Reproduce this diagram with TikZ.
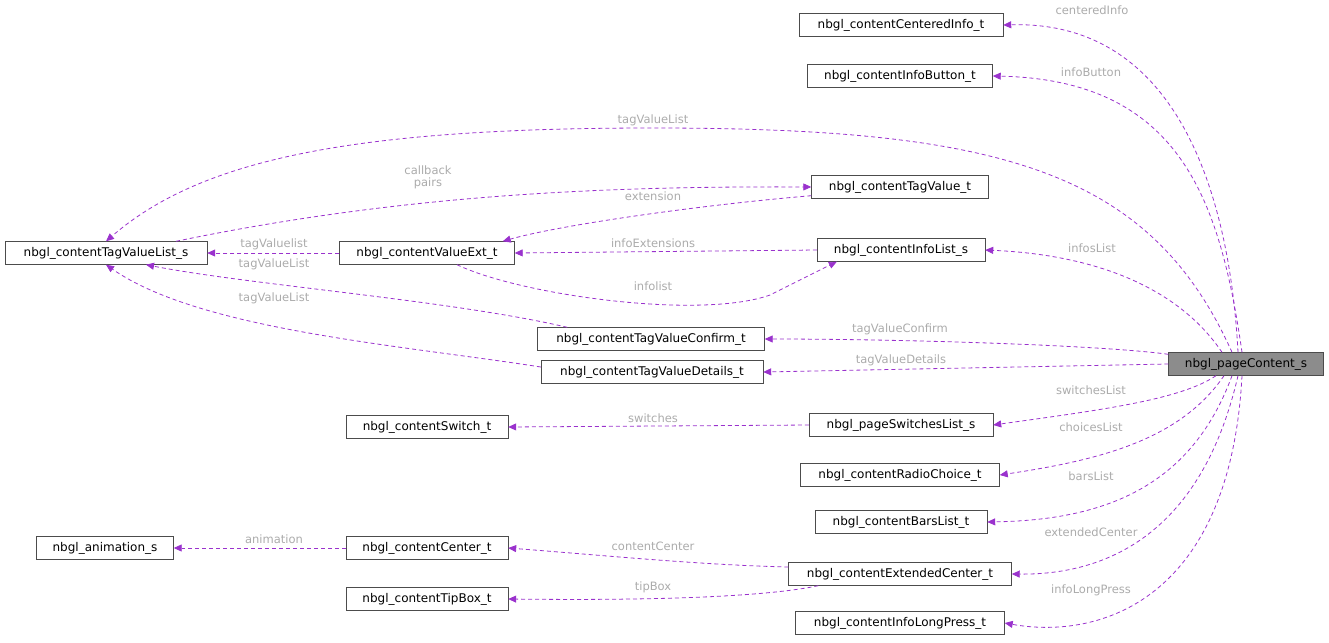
\documentclass[tikz,border=0pt]{standalone}
\usepackage{fontspec}
\setmainfont{DejaVu Sans}
\usetikzlibrary{arrows.meta}
\definecolor{edge}{HTML}{9A32CD}
\definecolor{lab}{HTML}{ABABAB}
\begin{document}
\begin{tikzpicture}[x=1pt,y=-1pt,
 box/.style={draw=black!70,fill=white,minimum height=23pt,inner sep=0pt,font=\fontsize{12}{14}\selectfont},
 e/.style={draw=edge,dashed,dash pattern=on 4pt off 3pt,line width=0.8pt,-{Triangle[length=8pt,width=7pt]}},
 l/.style={text=lab,font=\fontsize{11.5}{12}\selectfont,align=center}]
\useasboundingbox (0,0) rectangle (1329,642);
\node[box,minimum width=204pt] (ci) at (901,25) {nbgl\_contentCenteredInfo\_t};
\node[box,minimum width=185pt] (ib) at (900,76) {nbgl\_contentInfoButton\_t};
\node[box,minimum width=202pt] (tvl) at (106,253) {nbgl\_contentTagValueList\_s};
\node[box,minimum width=177pt] (tv) at (900,187) {nbgl\_contentTagValue\_t};
\node[box,minimum width=175pt] (ve) at (427,253) {nbgl\_contentValueExt\_t};
\node[box,minimum width=168pt] (il) at (901,250) {nbgl\_contentInfoList\_s};
\node[box,minimum width=227pt] (cf) at (651,339) {nbgl\_contentTagValueConfirm\_t};
\node[box,minimum width=222pt] (dt) at (652,372) {nbgl\_contentTagValueDetails\_t};
\node[box,minimum width=155pt,fill=black!45] (pc) at (1246,364) {nbgl\_pageContent\_s};
\node[box,minimum width=162pt] (sw) at (427,427) {nbgl\_contentSwitch\_t};
\node[box,minimum width=184pt] (sl) at (901,425) {nbgl\_pageSwitchesList\_s};
\node[box,minimum width=199pt] (rc) at (900,475) {nbgl\_contentRadioChoice\_t};
\node[box,minimum width=172pt] (bl) at (901,522) {nbgl\_contentBarsList\_t};
\node[box,minimum width=137pt] (an) at (105,548) {nbgl\_animation\_s};
\node[box,minimum width=162pt] (ce) at (427,548) {nbgl\_contentCenter\_t};
\node[box,minimum width=223pt] (ec) at (900,574) {nbgl\_contentExtendedCenter\_t};
\node[box,minimum width=162pt] (tb) at (427,599) {nbgl\_contentTipBox\_t};
\node[box,minimum width=209pt] (lp) at (900,623) {nbgl\_contentInfoLongPress\_t};
\coordinate (veT) at ([xshift=-12pt]ve.north east);
\coordinate (ilB) at ([xshift=20pt]il.south west);
\coordinate (tvlB) at ([xshift=40pt]tvl.south);

\draw[e] (pc.north) ++(-8,0) .. controls (1230,200) and (1180,20) .. (ci.east);
\draw[e] (pc.north) ++(-4,0) .. controls (1220,200) and (1180,80) .. (ib.east);
\draw[e] (pc.north) ++(-14,0) .. controls (1150,170) and (1000,128) .. (653,128) .. controls (350,128) and (200,160) .. (tvl.north);
\draw[e] (pc.north) ++(-24,0) .. controls (1180,290) and (1100,255) .. (il.east);
\draw[e] (pc.north west) ++(0,2) .. controls (1100,345) and (900,339) .. (cf.east);
\draw[e] (pc.west) -- (dt.east);
\draw[e] (pc.south) ++(-30,0) .. controls (1180,400) and (1100,410) .. (sl.east);
\draw[e] (pc.south) ++(-22,0) .. controls (1180,440) and (1100,460) .. (rc.east);
\draw[e] (pc.south) ++(-14,0) .. controls (1190,490) and (1100,520) .. (bl.east);
\draw[e] (pc.south) ++(-8,0) .. controls (1200,540) and (1100,575) .. (ec.east);
\draw[e] (pc.south) ++(-4,0) .. controls (1230,600) and (1100,640) .. (lp.east);
\node[l] at (1092,10) {centeredInfo};
\node[l] at (1091,72) {infoButton};
\node[l] at (653,120) {tagValueList};
\node[l] at (1092,248) {infosList};
\node[l] at (900,329) {tagValueConfirm};
\node[l] at (901,360) {tagValueDetails};
\node[l] at (1091,390) {switchesList};
\node[l] at (1091,427) {choicesList};
\node[l] at (1091,476) {barsList};
\node[l] at (1091,532) {extendedCenter};
\node[l] at (1091,590) {infoLongPress};

\draw[e] (tvl.north) ++(70,0) .. controls (400,195) and (600,186) .. (tv.west);
\node[l] at (428,177) {callback\\pairs};
\draw[e] (tv.south west) ++(0,-3) .. controls (700,205) and (560,225) .. (veT);
\node[l] at (653,196) {extension};
\draw[e] (ve.west) -- (tvl.east);
\node[l] at (274,244) {tagValuelist};
\draw[e] (il.west) -- (ve.east);
\node[l] at (653,243) {infoExtensions};
\draw[e] (ve.south) ++(30,0) .. controls (520,295) and (700,320) .. (770,295) .. controls (800,280) and (820,270) .. (ilB);
\node[l] at (653,286) {infolist};
\draw[e] (cf.north west) ++(30,0) .. controls (450,300) and (250,285) .. (tvlB);
\node[l] at (274,264) {tagValueList};
\draw[e] (dt.west) ++(0,-5) .. controls (400,345) and (200,330) .. (tvl.south);
\node[l] at (274,298) {tagValueList};
\draw[e] (sl.west) -- (sw.east);
\node[l] at (653,418) {switches};
\draw[e] (ce.west) -- (an.east);
\node[l] at (274,539) {animation};
\draw[e] (ec.west) ++(0,-7) .. controls (700,565) and (600,555) .. (ce.east);
\node[l] at (653,546) {contentCenter};
\draw[e] (ec.south west) ++(30,0) .. controls (750,600) and (600,600) .. (tb.east);
\node[l] at (653,587) {tipBox};
\end{tikzpicture}
\end{document}
